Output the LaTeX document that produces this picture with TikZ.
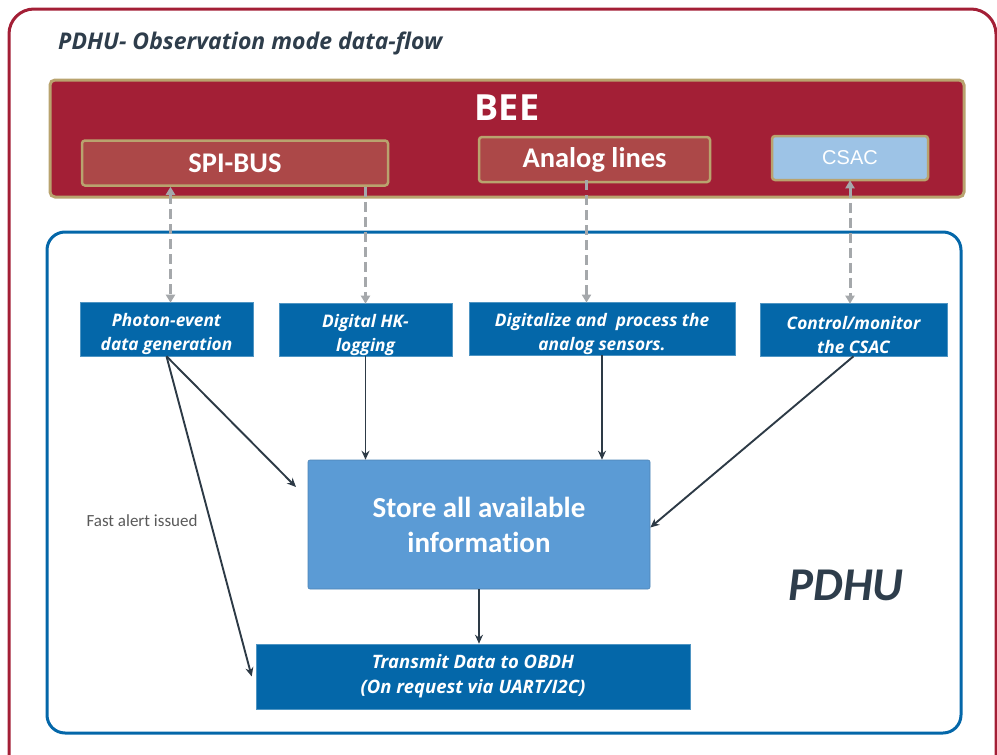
\documentclass[tikz,border=0pt]{standalone}
\usepackage{fontspec}
\setmainfont{Carlito}[Ligatures=NoCommon]
\newfontfamily\arialf{Liberation Sans}
\newfontfamily\opens{Open Sans}
\usetikzlibrary{arrows.meta}
\definecolor{crim}{HTML}{A31F36}
\definecolor{tan}{HTML}{B9A36E}
\definecolor{spired}{HTML}{AC4848}
\definecolor{boxblue}{HTML}{0467A9}
\definecolor{storeblue}{HTML}{5B9BD5}
\definecolor{csacblue}{HTML}{9DC3E6}
\definecolor{darkline}{HTML}{2D3A46}
\definecolor{gline}{HTML}{A5A8AB}
\definecolor{titlec}{HTML}{2E3D4B}
\definecolor{graytext}{HTML}{595959}
\newcommand{\fsz}[1]{\fontsize{#1pt}{1.2\dimexpr #1pt\relax}\selectfont}
\newcommand{\dn}[1]{\rule{0pt}{#1pt}}
\tikzset{
  beebox/.style={draw=tan, line width=3pt, fill=crim, rounded corners=5pt},
  subred/.style={draw=tan, line width=2.5pt, fill=spired, rounded corners=3pt, text=white, font=\fsz{28.5}\bfseries, inner sep=0pt},
  bluebox/.style={fill=boxblue, draw=boxblue!70!white, line width=0.6pt, text=white, font=\opens\fontsize{17.3pt}{24pt}\selectfont\bfseries\itshape, align=center, inner sep=0pt},
  darrow/.style={draw=darkline, line width=1.9pt, -{Stealth[length=9pt,width=8pt]}},
  gdash/.style={draw=gline, line width=3pt, dash pattern=on 10pt off 5pt},
  gboth/.style={{Triangle[length=8pt,width=9pt]}-{Triangle[length=8pt,width=9pt]}},
  gdown/.style={-{Triangle[length=8pt,width=9pt]}},
}
\begin{document}
\begin{tikzpicture}[x=1pt,y=-1pt]
\useasboundingbox (0,0) rectangle (997,755);
% outer red frame
\draw[crim, line width=3pt, rounded corners=25pt] (9,9) rectangle (996,790);
% title
\node[anchor=west, text=titlec, font=\opens\fsz{23}\bfseries\itshape, inner sep=0pt] (title) at (58,43) {PDHU- Observation mode data-flow};
% BEE
\draw[beebox] (50,80) rectangle (964,197);
\node[text=white, font=\opens\fsz{36}\bfseries, inner sep=0pt] (bee) at (507,108) {BEE};
\node[subred, minimum width=306pt, minimum height=45pt] (spi) at (235,163) {SPI-BUS};
\node[subred, minimum width=231pt, minimum height=45pt] (an) at (594.5,159.5) {Analog lines};
\node[draw=tan, line width=2.5pt, fill=csacblue, rounded corners=3pt, text=white, font=\arialf\fsz{20}, minimum width=156pt, minimum height=44pt, inner sep=0pt] (csac) at (850,158) {CSAC};
% PDHU frame
\draw[boxblue, line width=3pt, rounded corners=18pt] (47,232) rectangle (961,733);
\node[text=titlec, font=\fsz{47}\bfseries\itshape] (pdhu) at (846,585) {PDHU};
% blue boxes
\node[bluebox, minimum width=173pt, minimum height=54pt] (ph) at (166.5,329) {\dn{23}Photon-event\\data generation};
\node[bluebox, minimum width=173pt, minimum height=53pt] (dhk) at (365.5,329.5) {\dn{24}Digital HK-\\logging};
\node[bluebox, minimum width=266pt, minimum height=53pt] (dig) at (602,328.5) {\dn{25}Digitalize and \ process the\\analog sensors.};
\node[bluebox, minimum width=187pt, minimum height=53pt] (ctrl) at (853.5,329.5) {\dn{24}Control/monitor\\the CSAC};
\node[fill=storeblue, draw=storeblue!85!black, line width=0.6pt, rounded corners=2pt, text=white, font=\fontsize{29pt}{35pt}\selectfont\bfseries, align=center, minimum width=342pt, minimum height=129pt, inner sep=0pt] (store) at (479,524.5) {Store all available\\information};
\node[bluebox, font=\opens\fontsize{18.5pt}{25pt}\selectfont\bfseries\itshape, minimum width=434pt, minimum height=65pt] (tx) at (473,676.5) {Transmit Data to OBDH\\(On request via UART/I2C)};
\node[text=graytext, font=\fsz{17}] (fast) at (142,521) {Fast alert issued};
% dashed gray connectors
\draw[gdash, gboth] ([xshift=4pt]spi.south -| ph.north) -- ([xshift=4pt,yshift=-1pt]ph.north);
\draw[gdash, gdown] (spi.south -| dhk.north) -- ([yshift=-1pt]dhk.north);
\draw[gdash, gdown] ([xshift=-8pt,yshift=3pt]an.south) -- ([xshift=-8pt,yshift=-1pt]an.south |- dig.north);
\draw[gdash, gboth] ([yshift=1pt]csac.south) -- ([yshift=-1pt]csac.south |- ctrl.north);
% dark connectors
\coordinate (a1) at (296,487);
\draw[darrow] (ph.south) -- (a1);
\draw[darrow] (ph.south) -- ([xshift=-4pt]tx.west);
\draw[darrow] (dhk.south) -- (dhk.south |- store.north);
\draw[darrow] (dig.south) -- (dig.south |- store.north);
\draw[darrow] (ctrl.south) -- ([yshift=-3pt]store.east);
\draw[darrow] (store.south) -- (store.south |- tx.north);
\end{tikzpicture}
\end{document}
